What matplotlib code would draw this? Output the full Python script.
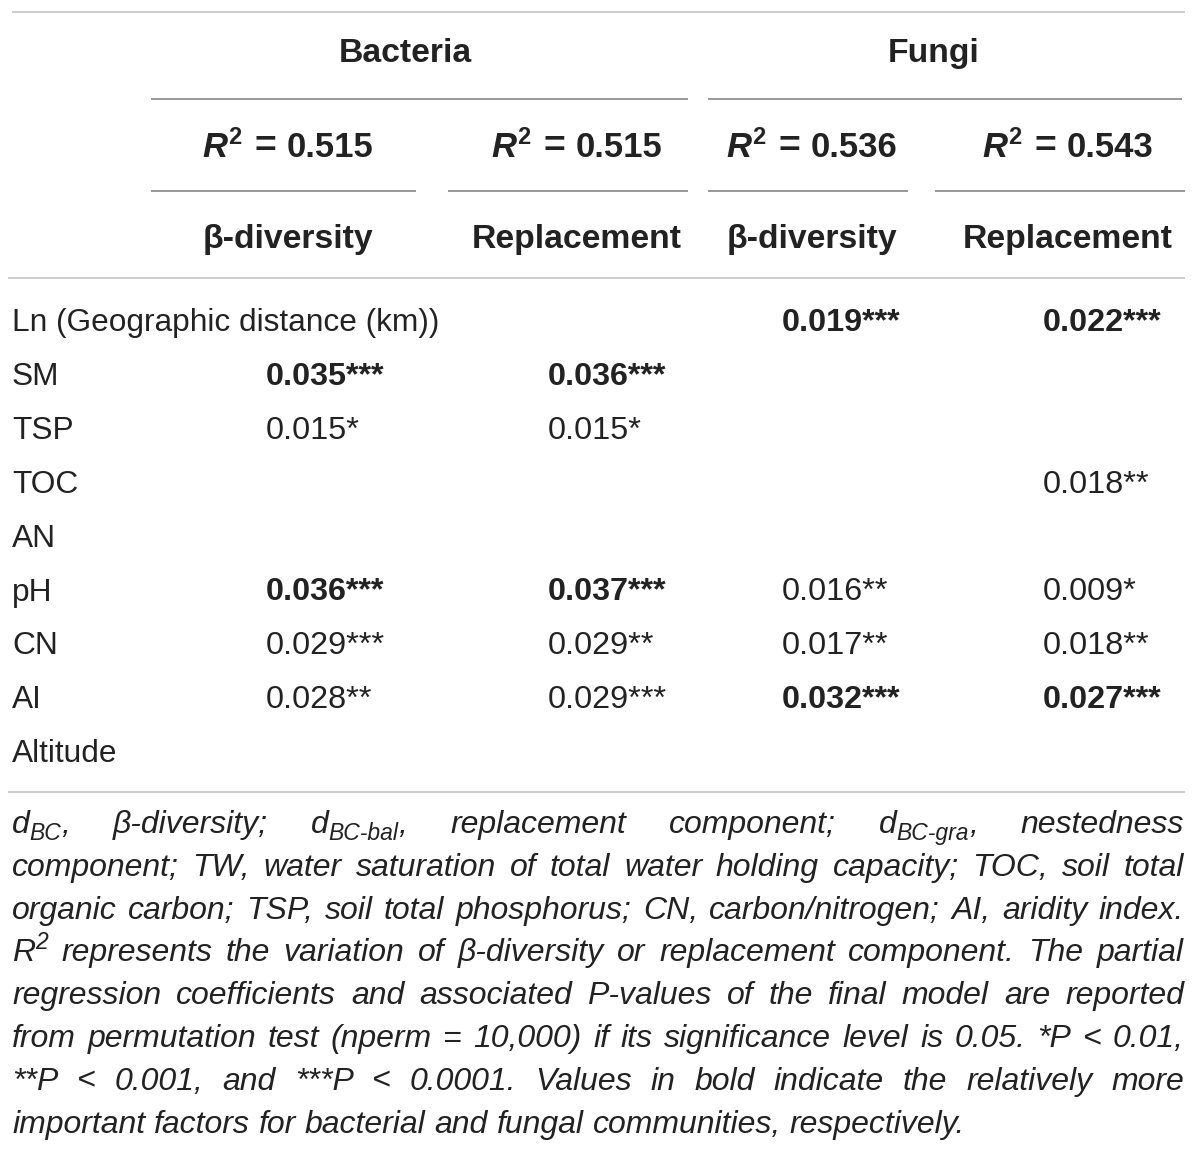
"""Regression table: bacteria and fungi beta-diversity / replacement factors."""

import matplotlib

matplotlib.use("Agg")
import matplotlib.pyplot as plt

FONT = "Liberation Sans"
TEXT_COLOR = "#222222"
RULE_LIGHT = "#cccccc"
RULE_DARK = "#999999"

group_names = ["Bacteria", "Fungi"]
r2_values = [0.515, 0.515, 0.536, 0.543]
column_names = ["β-diversity", "Replacement", "β-diversity", "Replacement"]
row_labels = ["Ln (Geographic distance (km))", "SM", "TSP", "TOC", "AN",
              "pH", "CN", "AI", "Altitude"]

bacteria_beta = ["", "0.035***", "0.015*", "", "", "0.036***", "0.029***", "0.028**", ""]
bacteria_beta_bold = [0, 1, 0, 0, 0, 1, 0, 0, 0]
bacteria_repl = ["", "0.036***", "0.015*", "", "", "0.037***", "0.029**", "0.029***", ""]
bacteria_repl_bold = [0, 1, 0, 0, 0, 1, 0, 0, 0]
fungi_beta = ["0.019***", "", "", "", "", "0.016**", "0.017**", "0.032***", ""]
fungi_beta_bold = [1, 0, 0, 0, 0, 0, 0, 1, 0]
fungi_repl = ["0.022***", "", "", "0.018**", "", "0.009*", "0.018**", "0.027***", ""]
fungi_repl_bold = [1, 0, 0, 0, 0, 0, 0, 1, 0]

value_columns = [bacteria_beta, bacteria_repl, fungi_beta, fungi_repl]
bold_columns = [bacteria_beta_bold, bacteria_repl_bold, fungi_beta_bold, fungi_repl_bold]

# layout in pixels
group_centers = [405, 934]
column_centers = [288, 577, 812, 1068]
value_left = [266, 548, 782, 1043]
group_spans = [(151, 688), (708, 1182)]
column_spans = [(151, 416), (448, 688), (708, 908), (935, 1185)]
row_baseline0 = 331
row_step = 53.9

figure = plt.figure(figsize=(12, 11.52), dpi=100)
axis = figure.add_axes([0, 0, 1, 1])
axis.set_xlim(0, 1200)
axis.set_ylim(1152, 0)
axis.axis("off")
renderer = figure.canvas.get_renderer()


def text_width(artist):
    return artist.get_window_extent(renderer).width


def draw_runs(runs, x, y, ha="left"):
    """Place runs (text, style, dy) one after the other on a baseline."""
    artists = []
    for piece, style, dy in runs:
        if piece is None:
            artists.append((None, style))
            continue
        artist = axis.text(0, y + dy, piece, va="baseline", ha="left",
                           family=FONT, color=TEXT_COLOR, **style)
        artists.append((artist, text_width(artist)))
    total = sum(width for _, width in artists)
    start = x - total / 2 if ha == "center" else x
    for artist, width in artists:
        if artist is not None:
            artist.set_x(start)
        start += width
    return total


def rule(x0, x1, y, color, width=1.4):
    axis.plot([x0, x1], [y, y], color=color, linewidth=width, solid_capstyle="butt")


# rules
rule(12, 1185, 12, RULE_LIGHT)
for x0, x1 in group_spans:
    rule(x0, x1, 99, RULE_DARK)
for x0, x1 in column_spans:
    rule(x0, x1, 191, RULE_DARK)
rule(8, 1185, 278, RULE_LIGHT)
rule(8, 1185, 792, RULE_LIGHT)

head = {"size": 24.3, "weight": "bold"}
for name, center in zip(group_names, group_centers):
    draw_runs([(name, head, 0)], center, 62, ha="center")

r2_number = {"size": 25, "weight": "bold"}
for value, center in zip(r2_values, column_centers):
    draw_runs([
        ("R", {"size": 25, "weight": "bold", "style": "italic"}, 0),
        ("2", {"size": 17, "weight": "bold"}, -13),
        (None, 14, 0),
        ("=", {"size": 27, "weight": "bold"}, 0),
        (None, 10, 0),
        ("{:.3f}".format(value), r2_number, 0),
    ], center, 157, ha="center")

for name, center in zip(column_names, column_centers):
    draw_runs([(name, head, 0)], center, 248, ha="center")

label_style = {"size": 22.8}
body = {"size": 23.3}
body_bold = {"size": 23.3, "weight": "bold"}
for index, label in enumerate(row_labels):
    baseline = row_baseline0 + index * row_step
    draw_runs([(label, label_style, 0)], 12, baseline)
    for column, left in enumerate(value_left):
        entry = value_columns[column][index]
        if entry:
            style = body_bold if bold_columns[column][index] else body
            draw_runs([(entry, style, 0)], left, baseline)

# justified italic footnote
note = {"size": 23, "style": "italic"}
note_small = {"size": 16.5, "style": "italic"}
sup = {"size": 16.5, "style": "italic"}


def w(text):
    return [(text, note, 0)]


def sub(base, lower, tail):
    return [(base, note, 0), (lower, note_small, 7), (tail, note, 0)]


footnote_lines = [
    [sub("d", "BC", ","), w("β-diversity;"), sub("d", "BC-bal", ","), w("replacement"),
     w("component;"), sub("d", "BC-gra", ","), w("nestedness")],
    [w(t) for t in "component; TW, water saturation of total water holding capacity; TOC, soil total".split()],
    [w(t) for t in "organic carbon; TSP, soil total phosphorus; CN, carbon/nitrogen; AI, aridity index.".split()],
    [[("R", note, 0), ("2", sup, -12)]] +
    [w(t) for t in "represents the variation of β-diversity or replacement component. The partial".split()],
    [w(t) for t in "regression coefficients and associated P-values of the final model are reported".split()],
    [w(t) for t in "from permutation test (nperm = 10,000) if its significance level is 0.05. *P < 0.01,".split()],
    [w(t) for t in "**P < 0.001, and ***P < 0.0001. Values in bold indicate the relatively more".split()],
    [w(t) for t in "important factors for bacterial and fungal communities, respectively.".split()],
]

probe_a = axis.text(0, 0, "x x", family=FONT, **note)
probe_b = axis.text(0, 0, "xx", family=FONT, **note)
space_width = text_width(probe_a) - text_width(probe_b)
probe_a.remove()
probe_b.remove()

left_edge, right_edge = 12, 1184
note_baseline0 = 833
note_step = 42.8
for line_index, words in enumerate(footnote_lines):
    baseline = note_baseline0 + line_index * note_step
    widths = []
    groups = []
    for word in words:
        start_count = len(axis.texts)
        widths.append(draw_runs(word, 0, baseline))
        groups.append(axis.texts[start_count:])
    last = line_index == len(footnote_lines) - 1
    if last:
        gap = space_width
    else:
        gap = (right_edge - left_edge - sum(widths)) / (len(words) - 1)
    cursor = left_edge
    for artists, width in zip(groups, widths):
        for artist in artists:
            artist.set_x(artist.get_position()[0] + cursor)
        cursor += width + gap

figure.savefig("out.png", dpi=100)
plt.close(figure)
